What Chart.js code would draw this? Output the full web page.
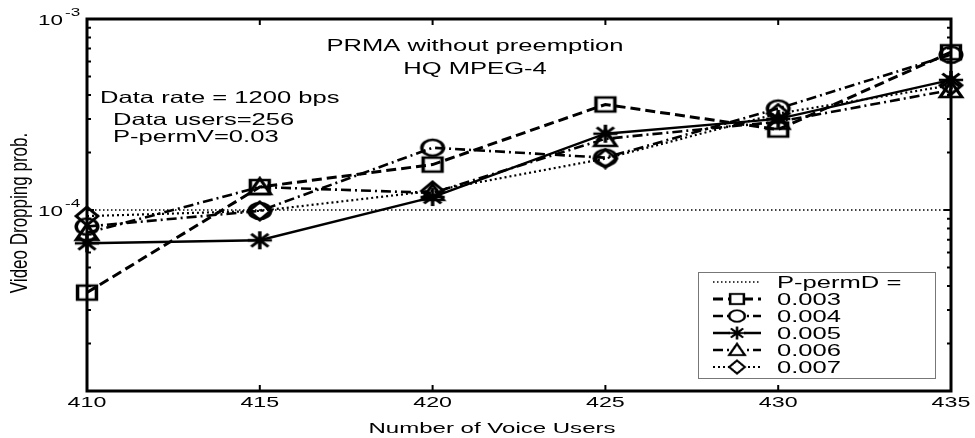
<!DOCTYPE html>
<html>
<head>
<meta charset="utf-8">
<script src="https://cdn.jsdelivr.net/npm/chart.js@4/dist/chart.umd.min.js"></script>
<style>
  html, body { margin: 0; padding: 0; background: #fff; }
  #wrap { width: 975px; height: 438px; position: relative; }
</style>
</head>
<body>
<div id="wrap"><canvas id="dropChart"></canvas></div>
<script>
// values
const voiceUsers = [410, 415, 420, 425, 430, 435];
const permD003 = [3.7e-5, 1.32e-4, 1.73e-4, 3.57e-4, 2.64e-4, 6.7e-4];
const permD004 = [8.2e-5, 9.9e-5, 2.12e-4, 1.88e-4, 3.4e-4, 6.5e-4];
const permD005 = [6.7e-5, 6.95e-5, 1.17e-4, 2.51e-4, 3.0e-4, 4.8e-4];
const permD006 = [7.6e-5, 1.32e-4, 1.23e-4, 2.36e-4, 2.9e-4, 4.25e-4];
const permD007 = [9.3e-5, 9.9e-5, 1.26e-4, 1.86e-4, 3.2e-4, 4.5e-4];
const refLine = [1e-4, 1e-4, 1e-4, 1e-4, 1e-4, 1e-4];

const seriesNames = ['P-permD =', '0.003', '0.004', '0.005', '0.006', '0.007'];
const yMajorTicks = [1e-3, 1e-4];
const yTickExp = ['-3', '-4'];
const titleLines = ['PRMA without preemption', 'HQ MPEG-4'];
const noteLines = ['Data rate = 1200 bps', 'Data users=256', 'P-permV=0.03'];
const xTitle = 'Number of Voice Users';
const yTitle = 'Video Dropping prob.';

const FONT = '"Liberation Sans", Arial, sans-serif';
const SX = 1.55; // the scanned figure is stretched sideways

function stretchText(ctx, text, x, y, align, size) {
    ctx.save();
    ctx.translate(x, y);
    ctx.scale(SX, 1);
    ctx.font = size + 'px ' + FONT;
    ctx.textAlign = align;
    ctx.textBaseline = 'alphabetic';
    ctx.fillStyle = '#000';
    ctx.fillText(text, 0, 0);
    ctx.restore();
}

// hollow markers, a bit wider than tall like the scan
function makeMarker(kind) {
    const c = document.createElement('canvas');
    c.width = 28; c.height = 22;
    const g = c.getContext('2d');
    g.translate(14, 11);
    g.scale(1.35, 1);
    g.strokeStyle = '#000';
    g.lineWidth = 2.6;
    g.beginPath();
    if (kind === 'square') {
        g.rect(-7, -7, 14, 14);
    } else if (kind === 'circle') {
        g.arc(0, 0, 8, 0, Math.PI * 2);
    } else if (kind === 'star') {
        for (let k = 0; k < 4; k++) {
            const t = k * Math.PI / 4;
            g.moveTo(-9 * Math.cos(t), -9 * Math.sin(t));
            g.lineTo(9 * Math.cos(t), 9 * Math.sin(t));
        }
    } else if (kind === 'triangle') {
        g.moveTo(0, -8.5); g.lineTo(8, 7); g.lineTo(-8, 7); g.closePath();
    } else if (kind === 'diamond') {
        g.moveTo(0, -9); g.lineTo(8, 0); g.lineTo(0, 9); g.lineTo(-8, 0); g.closePath();
    }
    g.stroke();
    return c;
}

function series(label, data, dash, marker, width) {
    return {
        label: label,
        data: data,
        borderColor: '#000',
        borderWidth: width,
        borderDash: dash,
        pointStyle: marker ? makeMarker(marker) : false,
        pointRadius: marker ? 9 : 0,
        tension: 0,
        clip: false,
        fill: false
    };
}

const datasets = [
    series(seriesNames[0], refLine, [1.5, 2.5], null, 1.5),
    series(seriesNames[1], permD003, [10, 5], 'square', 3),
    series(seriesNames[2], permD004, [10, 4, 2, 4], 'circle', 2.6),
    series(seriesNames[3], permD005, [], 'star', 2.4),
    series(seriesNames[4], permD006, [10, 4, 2, 4], 'triangle', 2.6),
    series(seriesNames[5], permD007, [2, 3], 'diamond', 2.2)
];

const decorPlugin = {
    id: 'decor',
    afterDatasetsDraw(chart) {
        const ctx = chart.ctx;
        const a = chart.chartArea;
        const xs = chart.scales.x;
        const ys = chart.scales.y;

        // axes box
        ctx.save();
        ctx.strokeStyle = '#000';
        ctx.lineWidth = 3;
        ctx.strokeRect(a.left, a.top, a.right - a.left, a.bottom - a.top);

        // x ticks, inward top and bottom
        ctx.lineWidth = 2;
        voiceUsers.forEach((v, i) => {
            const px = xs.getPixelForValue(i);
            ctx.beginPath();
            ctx.moveTo(px, a.bottom); ctx.lineTo(px, a.bottom - 6);
            ctx.moveTo(px, a.top); ctx.lineTo(px, a.top + 6);
            ctx.stroke();
            stretchText(ctx, String(v), px, a.bottom + 16, 'center', 15);
        });

        // y ticks, major and minor, inward left and right
        for (let e = -6; e <= -3; e++) {
            for (let m = 1; m <= 9; m++) {
                const v = m * Math.pow(10, e);
                if (v < ys.min * 0.999 || v > ys.max * 1.001) continue;
                const py = ys.getPixelForValue(v);
                const len = m === 1 ? 7 : 4;
                ctx.beginPath();
                ctx.moveTo(a.left, py); ctx.lineTo(a.left + len, py);
                ctx.moveTo(a.right, py); ctx.lineTo(a.right - len, py);
                ctx.stroke();
            }
        }
        yMajorTicks.forEach((v, i) => {
            const py = ys.getPixelForValue(v);
            stretchText(ctx, '10', a.left - 24, py + 5.5, 'right', 14.5);
            stretchText(ctx, yTickExp[i], a.left - 22, py - 3.5, 'left', 11);
        });

        // axis titles
        stretchText(ctx, xTitle, 492, 433, 'center', 15.5);
        ctx.save();
        ctx.translate(27, 213);
        ctx.scale(1.4, 1);
        ctx.rotate(-Math.PI / 2);
        ctx.font = '17px ' + FONT;
        ctx.textAlign = 'center';
        ctx.fillStyle = '#000';
        ctx.fillText(yTitle, 0, 0);
        ctx.restore();

        // text inside the axes
        stretchText(ctx, titleLines[0], 475, 51, 'center', 16.5);
        stretchText(ctx, titleLines[1], 475, 74, 'center', 16.5);
        stretchText(ctx, noteLines[0], 100, 103, 'left', 16.5);
        stretchText(ctx, noteLines[1], 113, 125, 'left', 16.5);
        stretchText(ctx, noteLines[2], 113, 142, 'left', 16.5);

        // legend box
        const lx = 698, ly = 272, lw = 237, lh = 106;
        ctx.fillStyle = '#fff';
        ctx.fillRect(lx, ly, lw, lh);
        ctx.strokeStyle = '#777';
        ctx.lineWidth = 1;
        ctx.strokeRect(lx + 0.5, ly + 0.5, lw, lh);
        chart.data.datasets.forEach((ds, i) => {
            const ry = 282 + i * 17;
            ctx.save();
            ctx.strokeStyle = '#000';
            ctx.lineWidth = ds.borderWidth;
            ctx.setLineDash(ds.borderDash);
            ctx.beginPath();
            ctx.moveTo(713, ry); ctx.lineTo(761, ry);
            ctx.stroke();
            if (ds.pointStyle) {
                const m = ds.pointStyle;
                const w = m.width * 0.72, h = m.height * 0.72;
                ctx.fillStyle = '#fff';
                ctx.fillRect(737 - 7, ry - 5, 14, 10);
                ctx.drawImage(m, 737 - w / 2, ry - h / 2, w, h);
            }
            ctx.restore();
            stretchText(ctx, ds.label, 777, ry + 6, 'left', 16.5);
        });
        ctx.restore();
    }
};

new Chart(document.getElementById('dropChart').getContext('2d'), {
    type: 'line',
    data: {
        labels: voiceUsers,
        datasets: datasets
    },
    options: {
        responsive: true,
        maintainAspectRatio: false,
        animation: false,
        layout: { padding: { left: 87, right: 24, top: 19, bottom: 47 } },
        scales: {
            x: { type: 'category', display: false, offset: false },
            y: { type: 'logarithmic', display: false, min: 1.13e-5, max: 1e-3 }
        },
        plugins: {
            legend: { display: false },
            tooltip: { enabled: false }
        }
    },
    plugins: [decorPlugin]
});
</script>
</body>
</html>
